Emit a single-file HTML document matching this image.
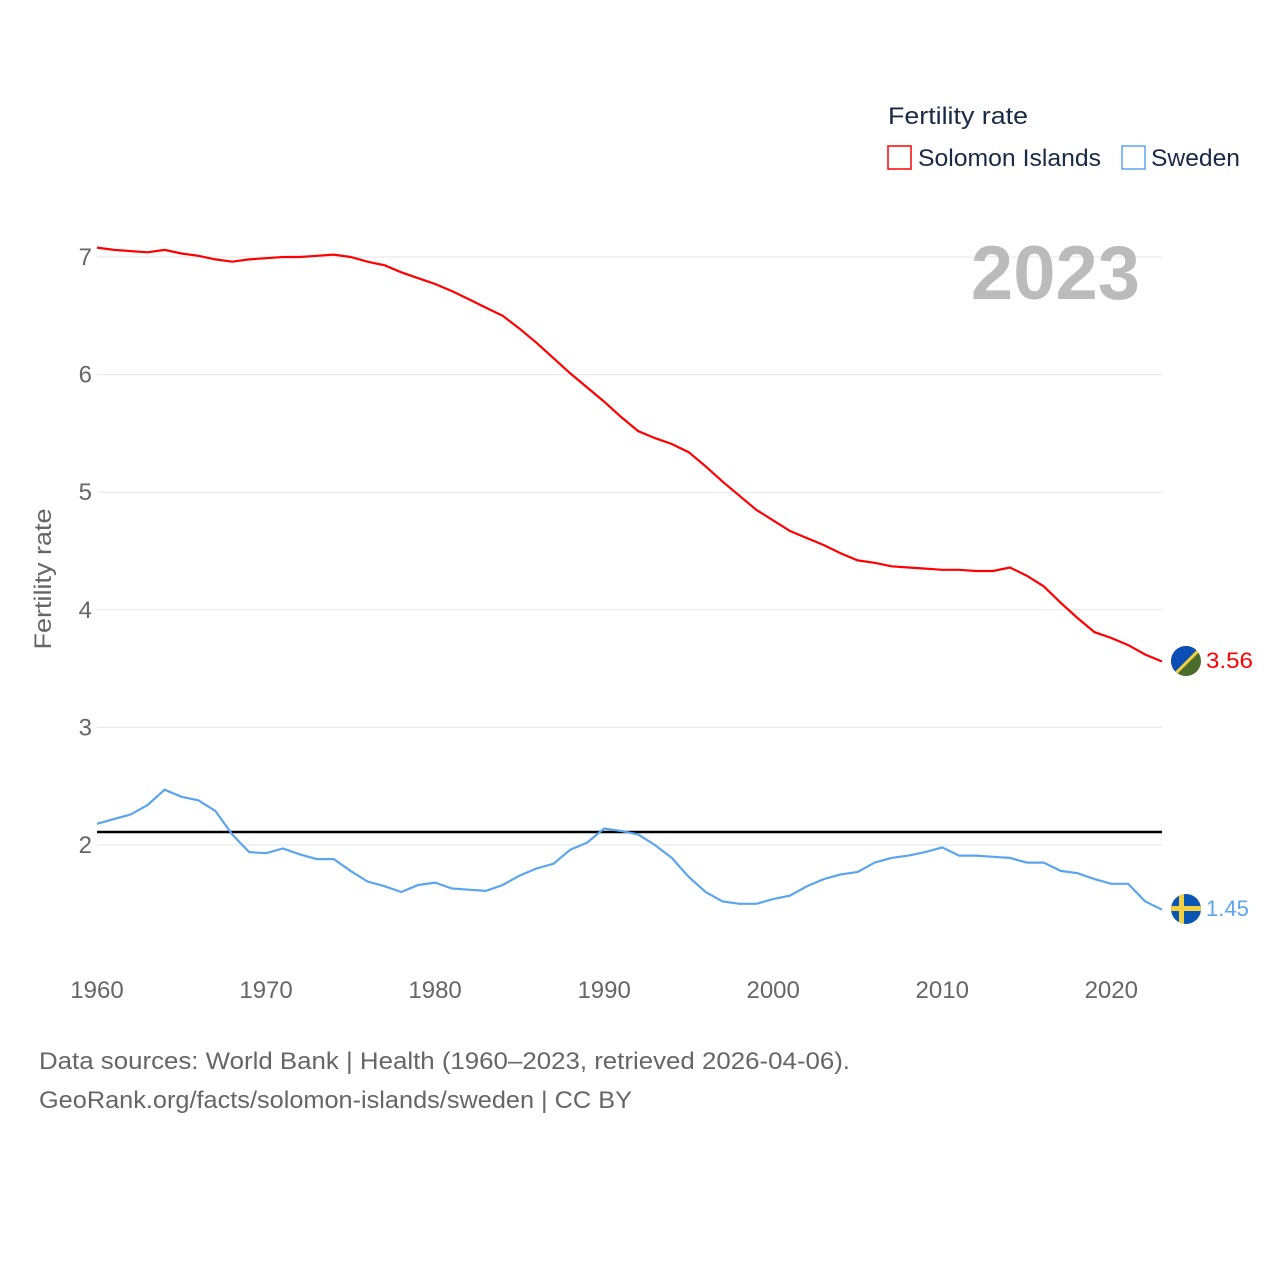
<!DOCTYPE html>
<html><head><meta charset="utf-8"><style>
body{margin:0;background:#fff;font-family:"Liberation Sans",sans-serif;}
svg{display:block}
</style></head><body>
<svg id="chart" width="1280" height="1280" viewBox="0 0 1280 1280">
<defs>
<clipPath id="c1"><circle cx="1186" cy="661" r="15"/></clipPath>
<clipPath id="c2"><circle cx="1186" cy="909" r="15"/></clipPath>
</defs>
<g id="grid"></g>
<g id="yt"></g>
<g id="xt"></g>
<text transform="translate(51,579) rotate(-90)" text-anchor="middle" font-size="24" fill="#666" textLength="141" lengthAdjust="spacingAndGlyphs">Fertility rate</text>
<text x="1140" y="299" text-anchor="end" font-size="76" font-weight="bold" fill="#bbb">2023</text>
<line x1="97" x2="1162" y1="832" y2="832" stroke="#000" stroke-width="2.5"/>
<path id="pS" fill="none" stroke="#f00" stroke-width="2.2"/>
<path id="pW" fill="none" stroke="#5aa5ee" stroke-width="2.2"/>
<g clip-path="url(#c1)">
<rect x="1170" y="645" width="32" height="32" fill="#4b6d2b"/>
<polygon points="1170,645 1202,645 1170,677" fill="#0a4fb5"/>
<line x1="1170" y1="679" x2="1204" y2="645" stroke="#f4d03f" stroke-width="3"/>
</g>
<text x="1206" y="668" font-size="22" fill="#f00" textLength="47" lengthAdjust="spacingAndGlyphs">3.56</text>
<g clip-path="url(#c2)">
<rect x="1170" y="893" width="32" height="32" fill="#0a56b5"/>
<rect x="1179" y="893" width="5" height="32" fill="#f4d03f"/>
<rect x="1170" y="906" width="32" height="5" fill="#f4d03f"/>
</g>
<text x="1206" y="916" font-size="22" fill="#5aa5ee">1.45</text>
<text x="888" y="124" font-size="24" fill="#1a2a44" textLength="140" lengthAdjust="spacingAndGlyphs">Fertility rate</text>
<rect x="888" y="146" width="23" height="23" fill="none" stroke="#f00" stroke-width="1.5"/>
<text x="918" y="166" font-size="24" fill="#1a2a44" textLength="183" lengthAdjust="spacingAndGlyphs">Solomon Islands</text>
<rect x="1122" y="146" width="23" height="23" fill="none" stroke="#5aa5ee" stroke-width="1.5"/>
<text x="1151" y="166" font-size="24" fill="#1a2a44" textLength="89" lengthAdjust="spacingAndGlyphs">Sweden</text>
<text x="39" y="1069" font-size="24" fill="#666" textLength="811" lengthAdjust="spacingAndGlyphs">Data sources: World Bank | Health (1960–2023, retrieved 2026-04-06).</text>
<text x="39" y="1108" font-size="24" fill="#666" textLength="593" lengthAdjust="spacingAndGlyphs">GeoRank.org/facts/solomon-islands/sweden | CC BY</text>
</svg>
<script>
const years=[];for(let y=1960;y<=2023;y++)years.push(y);
const solomon=[7.08,7.06,7.05,7.04,7.06,7.03,7.01,6.98,6.96,6.98,6.99,7.00,7.00,7.01,7.02,7.00,6.96,6.93,6.87,6.82,6.77,6.71,6.64,6.57,6.50,6.39,6.27,6.14,6.01,5.89,5.77,5.64,5.52,5.46,5.41,5.34,5.22,5.09,4.97,4.85,4.76,4.67,4.61,4.55,4.48,4.42,4.40,4.37,4.36,4.35,4.34,4.34,4.33,4.33,4.36,4.29,4.20,4.06,3.93,3.81,3.76,3.70,3.62,3.56];
const sweden=[2.18,2.22,2.26,2.34,2.47,2.41,2.38,2.29,2.09,1.94,1.93,1.97,1.92,1.88,1.88,1.78,1.69,1.65,1.60,1.66,1.68,1.63,1.62,1.61,1.66,1.74,1.80,1.84,1.96,2.02,2.14,2.12,2.09,2.00,1.89,1.73,1.60,1.52,1.50,1.50,1.54,1.57,1.65,1.71,1.75,1.77,1.85,1.89,1.91,1.94,1.98,1.91,1.91,1.90,1.89,1.85,1.85,1.78,1.76,1.71,1.67,1.67,1.52,1.45];
const yTicks=[2,3,4,5,6,7];
const xTicks=[1960,1970,1980,1990,2000,2010,2020];
const X=y=>97+(y-1960)*(1162-97)/63;
const Y=v=>845-(v-2)*117.6;
const NS="http://www.w3.org/2000/svg";
const g=document.getElementById('grid'),yt=document.getElementById('yt'),xt=document.getElementById('xt');
yTicks.forEach(t=>{
 const l=document.createElementNS(NS,'line');
 
 
 l.setAttribute('x1',97);l.setAttribute('x2',1162);l.setAttribute('y1',Y(t));l.setAttribute('y2',Y(t));
 l.setAttribute('stroke','#e6e6e6');g.appendChild(l);
 const tx=document.createElementNS(NS,'text');
 
 
 tx.setAttribute('x',92);tx.setAttribute('y',Y(t)+8);tx.setAttribute('text-anchor','end');
 tx.setAttribute('font-size','24');tx.setAttribute('fill','#666');tx.textContent=t;yt.appendChild(tx);
});
xTicks.forEach(t=>{
 const tx=document.createElementNS(NS,'text');
 
 
 tx.setAttribute('x',X(t));tx.setAttribute('y',998);tx.setAttribute('text-anchor','middle');
 tx.setAttribute('font-size','24');tx.setAttribute('fill','#666');tx.textContent=t;xt.appendChild(tx);
});
const path=a=>a.map((v,i)=>(i?'L':'M')+X(years[i]).toFixed(1)+','+Y(v).toFixed(1)).join('');
document.getElementById('pS').setAttribute('d',path(solomon));
document.getElementById('pW').setAttribute('d',path(sweden));
</script>
</body></html>
